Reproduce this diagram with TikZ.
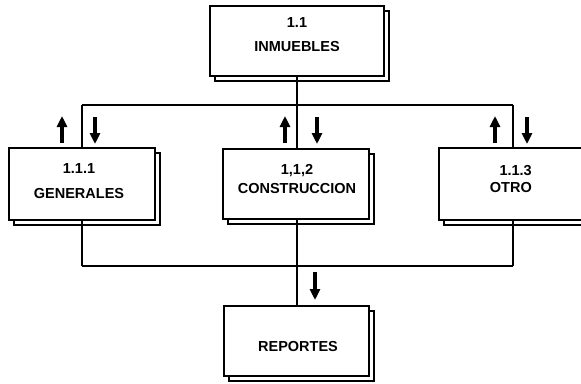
\documentclass[tikz,border=0pt]{standalone}
\usepackage{fontspec}
\setmainfont{Liberation Sans}
\usetikzlibrary{arrows.meta}
\tikzset{
  box/.style={draw=black, line width=1.8pt, fill=white, outer sep=0pt, inner sep=0pt},
  shadowline/.style={draw=black, line width=1.8pt, line join=miter},
  conn/.style={draw=black, line width=1.5pt},
  txt/.style={font=\fontsize{14.5}{24}\selectfont\bfseries, align=center, inner sep=0pt},
  flowarr/.style={draw=black, line width=3.5pt, -{Triangle[width=10pt,length=11pt]}}
}
\begin{document}
\begin{tikzpicture}[x=1pt,y=-1pt]
\useasboundingbox (0,0) rectangle (581,383);
\fill[white] (0,0) rectangle (581,383);
\clip (0,0) rectangle (581,383);
% boxes
\node[box, minimum width=174pt, minimum height=70pt] (inm) at (297,41) {};
\node[box, minimum width=146pt, minimum height=72pt] (gen) at (82,184) {};
\node[box, minimum width=146pt, minimum height=70pt] (con) at (296,184) {};
\node[box, minimum width=161pt, minimum height=72pt] (otr) at (519.5,184) {};
\node[box, minimum width=145pt, minimum height=70pt] (rep) at (296.5,341) {};
% shadows
\foreach \n in {inm,gen,con,otr,rep}{
  \draw[shadowline] ([shift={(0,5)}]\n.north east) -- ([shift={(5,5)}]\n.north east)
     -- ([shift={(5,5)}]\n.south east) -- ([shift={(5,5)}]\n.south west) -- ([shift={(5,0)}]\n.south west);
}
% texts
\node[txt] (inmT) at (297,35) {1.1\\INMUEBLES};
\node[txt, font=\fontsize{14.5}{25}\selectfont\bfseries] (genT) at (79,181) {1.1.1\\GENERALES};
\node[txt, font=\fontsize{14.5}{19}\selectfont\bfseries] (conT) at (297,179) {1,1,2\\CONSTRUCCION};
\node[txt, font=\fontsize{14.5}{17}\selectfont\bfseries, align=right, anchor=east] (otrT) at (532,179) {1.1.3\\OTRO};
\node[txt] (repT) at (298,347) {REPORTES};
% connectors
\coordinate (tL) at (82,105);
\coordinate (tR) at (513,105);
\coordinate (bL) at (82,266);
\coordinate (bR) at (513,266);
\draw[conn] (tL) -- (tR);
\draw[conn] (tL) -- (tL |- gen.north);
\draw[conn] (tR) -- (tR |- otr.north);
\draw[conn] (inm.south) -- (inm.south |- con.north);
\draw[conn] (bL) -- (bR);
\draw[conn] (bL) -- (bL |- gen.south);
\draw[conn] (bR) -- (bR |- otr.south);
\draw[conn] (rep.north -| inm.south) -- (con.south -| inm.south);
% arrows
\draw[flowarr] (62,143) -- (62,116);
\draw[flowarr] (95,117) -- (95,144);
\draw[flowarr] (285,143) -- (285,116);
\draw[flowarr] (317,117) -- (317,144);
\draw[flowarr] (495,143) -- (495,116);
\draw[flowarr] (527,117) -- (527,144);
\draw[flowarr] (315,272) -- (315,300);
\end{tikzpicture}
\end{document}
